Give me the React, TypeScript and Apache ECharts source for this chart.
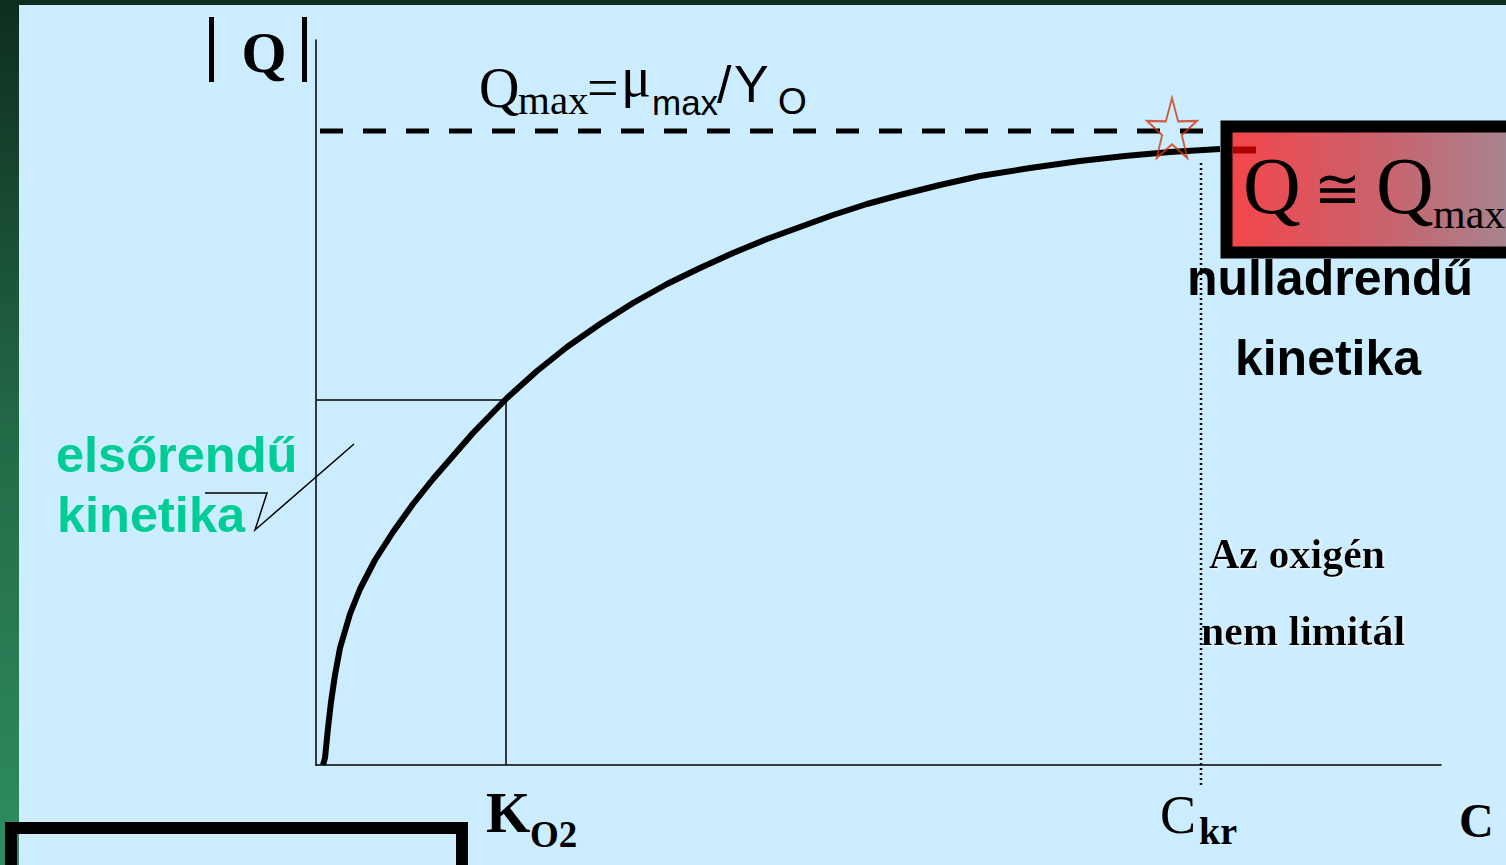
import React, { useEffect, useRef } from "react";
import * as echarts from "echarts";

// Values in arbitrary units (axis spans 0..1125 for C and 0..725 for |Q|)
const curveC = [7, 9, 12, 15, 19, 24, 34, 44, 59, 77, 97, 117, 157, 191, 221, 251, 284, 317, 351, 384, 417, 451, 484, 517, 551, 584, 624, 664, 714, 764, 809, 854, 904];
const curveQ = [0, 7, 37, 63, 90, 117, 151, 176, 205, 233, 261, 286, 332, 367, 394, 418, 441, 462, 481, 497, 512, 526, 538, 550, 561, 570, 580, 589, 597, 604, 609, 613, 616];

// Continuation of the curve inside the red box
const tailC = [917, 940];
const tailQ = [615, 615];

const qMax = 634;
const qMaxLineC = [4, 904];
const kO2 = 190;
const qAtK = 365;
const cKr = 885;
const cKrTopQ = 605;
const cKrBottomQ = -20;
const starC = 856;
const starQ = 637;

const xMax = 1125;
const yMax = 725;

const SERIF = "'Liberation Serif', 'Times New Roman', serif";
const SANS = "'Liberation Sans', Arial, sans-serif";

function txt(
  text: string,
  x: number,
  baseline: number,
  size: number,
  opts: { weight?: string; family?: string; color?: string; align?: string; shadow?: boolean } = {}
) {
  const family = opts.family || SERIF;
  const style: any = {
    text,
    x: 0,
    y: 0,
    font: `${opts.weight || "normal"} ${size}px ${family}`,
    fill: opts.color || "#000",
    align: opts.align || "left",
    verticalAlign: "middle",
  };
  if (opts.shadow) {
    style.textShadowColor = "rgba(255,255,255,0.9)";
    style.textShadowBlur = 2;
    style.textShadowOffsetX = 1;
    style.textShadowOffsetY = 1;
  }
  return {
    type: "text",
    x,
    y: baseline - 0.34 * size,
    z: 20,
    style,
  };
}

export default function App() {
  const ref = useRef<HTMLDivElement>(null);

  useEffect(() => {
    document.body.style.margin = "0";
    document.body.style.overflow = "hidden";
    if (!ref.current) return;
    const chart = echarts.init(ref.current, undefined, { renderer: "svg" });

    const curve = curveC.map((c, i) => [c, curveQ[i]]);
    const tail = tailC.map((c, i) => [c, tailQ[i]]);

    const option: any = {
      animation: false,
      backgroundColor: "#ccecff",
      grid: { left: 316, right: 65, top: 40, bottom: 100 },
      xAxis: {
        type: "value",
        min: 0,
        max: xMax,
        axisLine: { show: true, lineStyle: { color: "#000", width: 1.5 } },
        axisTick: { show: false },
        axisLabel: { show: false },
        splitLine: { show: false },
      },
      yAxis: {
        type: "value",
        min: 0,
        max: yMax,
        axisLine: { show: true, lineStyle: { color: "#000", width: 1.5 } },
        axisTick: { show: false },
        axisLabel: { show: false },
        splitLine: { show: false },
      },
      series: [
        {
          name: "Qmax",
          type: "line",
          data: qMaxLineC.map((c) => [c, qMax]),
          symbol: "none",
          lineStyle: { color: "#000", width: 5, type: [23, 20] },
          z: 3,
          clip: false,
        },
        {
          name: "K",
          type: "line",
          data: [
            [0, qAtK],
            [kO2, qAtK],
            [kO2, 0],
          ],
          symbol: "none",
          lineStyle: { color: "#000", width: 1.5 },
          z: 3,
          clip: false,
        },
        {
          name: "Ckr",
          type: "line",
          data: [
            [cKr, cKrBottomQ],
            [cKr, cKrTopQ],
          ],
          symbol: "none",
          lineStyle: { color: "#000", width: 2.5, type: [2, 3] },
          z: 3,
          clip: false,
        },
        {
          name: "Q",
          type: "line",
          data: curve,
          smooth: false,
          symbol: "none",
          lineStyle: { color: "#000", width: 6, join: "round" },
          z: 4,
          clip: false,
        },
        {
          name: "star",
          type: "scatter",
          data: [[starC, starQ]],
          symbol:
            "path://M50,0 L61.8,35.1 L98.1,34.5 L69,56.2 L79.4,90.5 L50,70 L20.6,90.5 L31,56.2 L1.9,34.5 L38.2,35.1 Z",
          symbolSize: [50, 60],
          itemStyle: { color: "rgba(0,0,0,0)", borderColor: "#d0380e", borderWidth: 2 },
          z: 5,
        },
        {
          name: "tail",
          type: "line",
          data: tail,
          symbol: "none",
          lineStyle: { color: "#b00000", width: 7, cap: "butt" },
          z: 15,
          clip: false,
        },
      ],
      graphic: [
        // frame strips
        {
          type: "rect",
          z: 1,
          shape: { x: 0, y: 0, width: 19, height: 865 },
          style: {
            fill: new echarts.graphic.LinearGradient(0, 0, 0, 1, [
              { offset: 0, color: "#0e2d1e" },
              { offset: 0.5, color: "#236a47" },
              { offset: 1, color: "#2e8d61" },
            ]),
          },
        },
        { type: "rect", z: 1, shape: { x: 0, y: 0, width: 1506, height: 5 }, style: { fill: "#0c2e1f" } },
        // bottom-left frame
        {
          type: "rect",
          z: 10,
          shape: { x: 11, y: 828, width: 451, height: 100 },
          style: { fill: "none", stroke: "#000", lineWidth: 12 },
        },
        // red box
        {
          type: "rect",
          z: 10,
          shape: { x: 1226.5, y: 126.5, width: 320, height: 126 },
          style: {
            fill: new echarts.graphic.LinearGradient(0, 0, 1, 0, [
              { offset: 0, color: "#f5454a" },
              { offset: 0.5, color: "#c8636d" },
              { offset: 0.88, color: "#a6858f" },
              { offset: 1, color: "#a2888f" },
            ]),
            stroke: "#000",
            lineWidth: 12,
          },
        },
        // |Q| bars
        { type: "rect", z: 20, shape: { x: 209, y: 17, width: 5, height: 65 }, style: { fill: "#000" } },
        { type: "rect", z: 20, shape: { x: 302, y: 17, width: 5, height: 65 }, style: { fill: "#000" } },
        txt("Q", 264, 72, 58, { weight: "bold", align: "center" }),
        // Qmax = mu_max / Y_O
        txt("Q", 479, 107, 56),
        txt("max", 518, 114, 41),
        txt("=", 587, 107, 56),
        txt("\u03bc", 621, 96, 56),
        txt("max", 652, 114, 35, { family: SANS }),
        txt("/", 717, 103, 52, { family: SANS }),
        txt("Y", 734, 102, 52, { family: SANS }),
        txt("O", 778, 114, 37, { family: SANS }),
        // box text
        txt("Q", 1243, 213, 80),
        txt("\u2245", 1337, 208, 56, { align: "center" }),
        txt("Q", 1376, 213, 80),
        txt("max", 1433, 228, 42),
        txt("nulladrendű", 1330, 295, 50, { weight: "bold", family: SANS, align: "center" }),
        txt("kinetika", 1328, 375, 50, { weight: "bold", family: SANS, align: "center" }),
        // first-order label
        txt("elsőrendű", 56, 472, 50.5, { weight: "bold", family: SANS, color: "#00cc96" }),
        txt("kinetika", 57, 532, 50.5, { weight: "bold", family: SANS, color: "#00cc96" }),
        {
          type: "polyline",
          z: 20,
          shape: {
            points: [
              [205, 493],
              [267, 493],
              [255, 530],
              [354, 444],
            ],
          },
          style: { stroke: "#000", lineWidth: 1.5, fill: "none" },
        },
        // no limitation text
        txt("Az oxigén", 1209, 568, 42, { weight: "bold", shadow: true }),
        txt("nem limitál", 1201, 645, 42, { weight: "bold", shadow: true }),
        // axis labels
        txt("K", 486, 832, 57, { weight: "bold" }),
        txt("O2", 530, 847, 37, { weight: "bold" }),
        txt("C", 1160, 833, 54),
        txt("kr", 1199, 844, 38, { weight: "bold" }),
        txt("C", 1459, 837, 48, { weight: "bold" }),
      ],
    };

    chart.setOption(option);
    return () => chart.dispose();
  }, []);

  return <div ref={ref} style={{ width: 1506, height: 865 }} />;
}
